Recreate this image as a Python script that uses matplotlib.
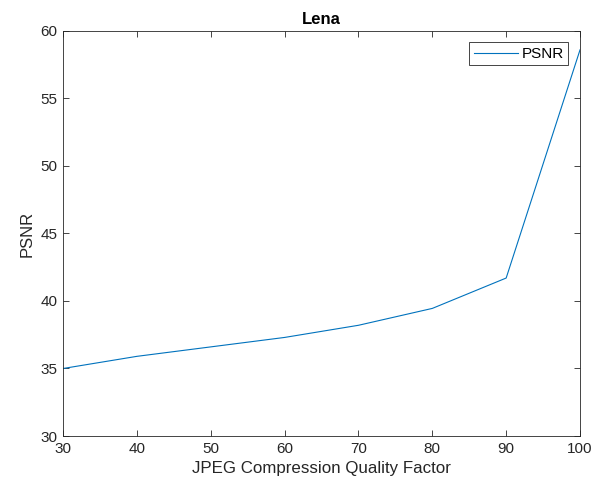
import numpy as np
import matplotlib.pyplot as plt

plt.rcParams['font.family'] = ['Liberation Sans', 'DejaVu Sans']

# quality factor vs PSNR for the Lena image
quality = [30, 40, 50, 60, 70, 80, 90, 100]
psnr = [35.0, 35.9, 36.6, 37.3, 38.2, 39.45, 41.7, 58.6]

ax_col = '#262626'

fig = plt.figure(figsize=(6.02, 4.91), dpi=100)
ax = fig.add_axes([0.1047, 0.112, 0.8588, 0.825])
ax.plot(quality, psnr, color='#0072BD', lw=0.8, label='PSNR')

ax.set_xlim(30, 100)
ax.set_ylim(30, 60)
ax.set_xticks(np.arange(30, 101, 10))
ax.set_yticks(np.arange(30, 61, 5))
ax.tick_params(direction='in', top=True, right=True, length=4, width=0.6,
               colors=ax_col, labelsize=11, pad=4)
for s in ax.spines.values():
    s.set_color(ax_col)
    s.set_linewidth(0.6)

ax.set_xlabel('JPEG Compression Quality Factor', fontsize=12.2, color=ax_col)
ax.set_ylabel('PSNR', fontsize=12, color=ax_col)
ax.set_title('Lena', fontsize=12, fontweight='bold', pad=5)

leg = ax.legend(loc='upper right', bbox_to_anchor=(0.977, 0.972), fontsize=11,
                fancybox=False, framealpha=1, edgecolor=ax_col,
                handlelength=2.9, borderpad=0.3, handletextpad=0.2, borderaxespad=0)
leg.get_frame().set_linewidth(0.6)

fig.savefig('out.png', dpi=100)
